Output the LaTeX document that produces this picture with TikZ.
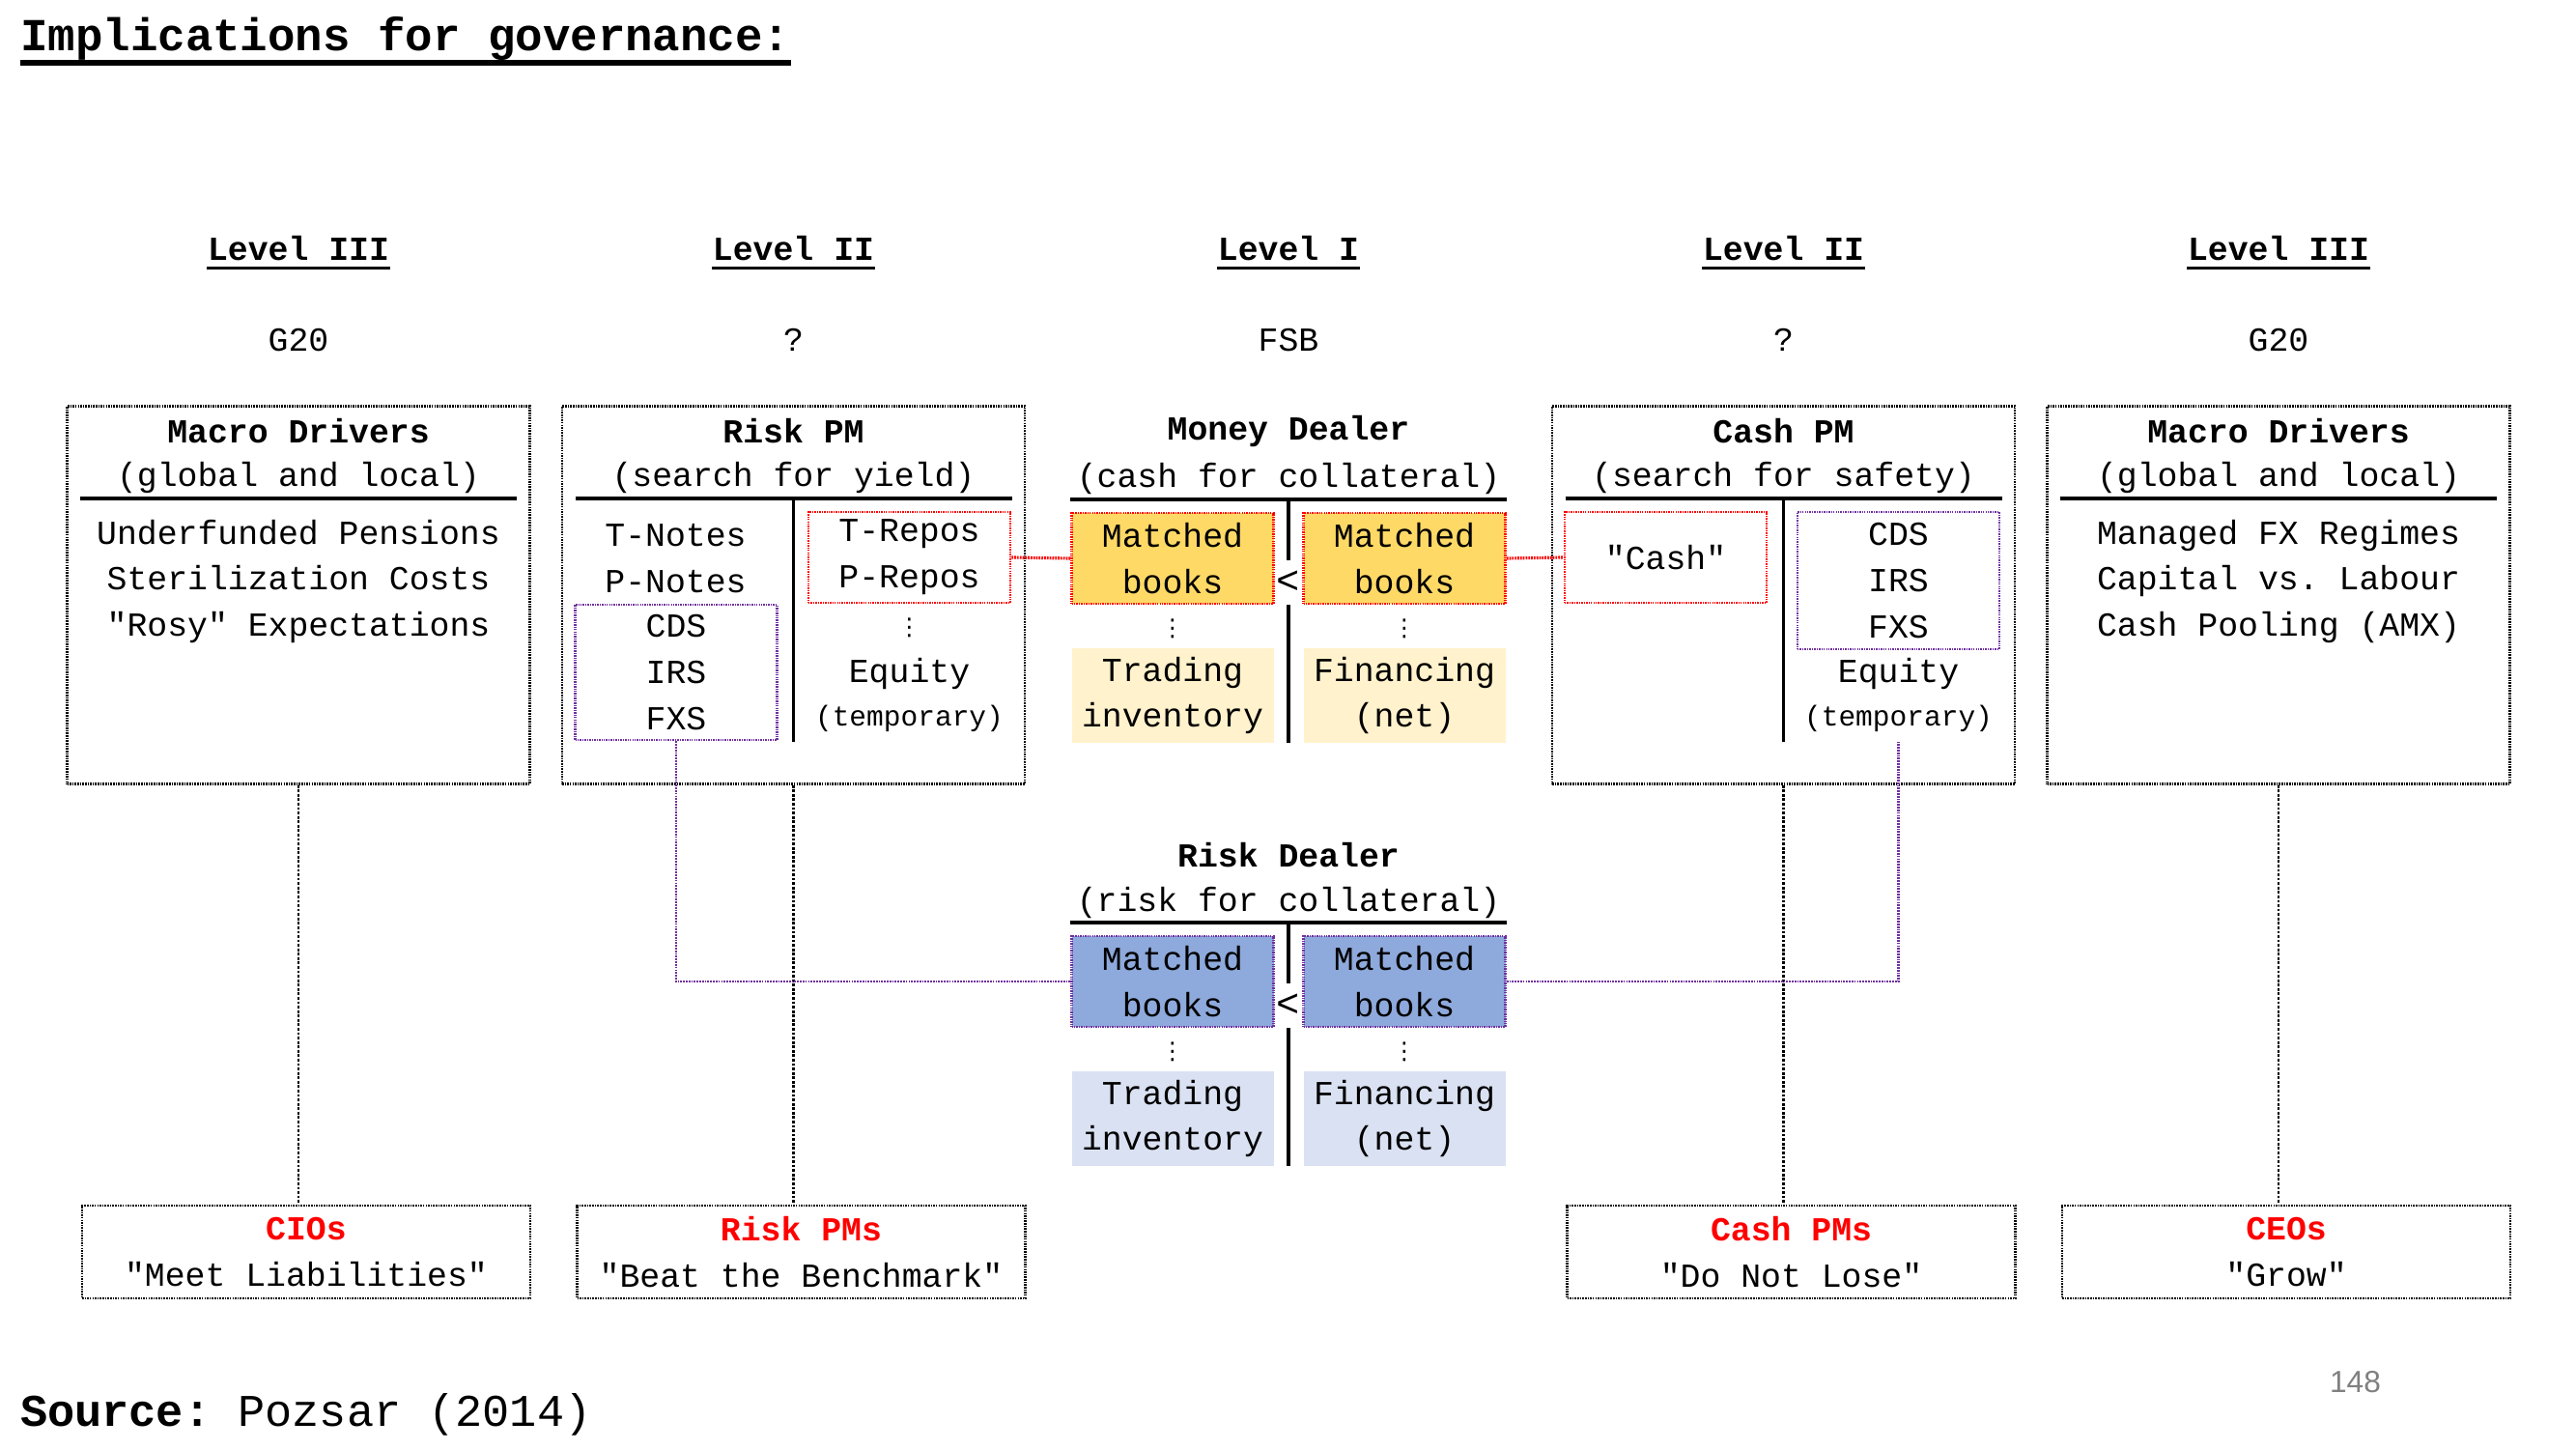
\documentclass[tikz,border=0pt]{standalone}
\usepackage{fontspec}
\setmonofont{Liberation Mono}
\renewcommand*{\familydefault}{\ttdefault}
\newfontfamily\pagefont{Liberation Sans}
\newfontfamily\dotfont{DejaVu Sans}
\usepackage{xcolor}
\usepackage{tikz}
\usetikzlibrary{positioning}
\definecolor{gold}{HTML}{FFD966}
\definecolor{paleGold}{HTML}{FFF2CC}
\definecolor{steel}{HTML}{8EA9DB}
\definecolor{paleSteel}{HTML}{D9E1F2}
\definecolor{lilac}{HTML}{7030A0}
\tikzset{
	on grid,
	txt/.style={inner sep=0pt, align=center, font=\fontsize{9.9}{13.6}\selectfont},
	bold/.style={txt, font=\fontsize{9.9}{13.6}\selectfont\bfseries},
	note/.style={txt, font=\fontsize{8.4}{11}\selectfont},
	dots/.style={inner sep=0pt, font=\dotfont\fontsize{7}{8}\selectfont},
	less/.style={inner sep=0pt, inner ysep=3pt, font=\fontsize{11.5}{12}\selectfont},
	frame/.style={draw, line width=0.7pt, dash pattern=on 0.45pt off 0.3pt},
	bigbox/.style={frame, minimum width=4.79cm, minimum height=3.91cm},
	lowbox/.style={frame, txt, minimum width=4.64cm, minimum height=0.96cm},
	redbox/.style={txt, draw=red, line width=0.75pt, dash pattern=on 0.4pt off 0.3pt, minimum width=2.09cm, minimum height=0.94cm},
	lilacbox/.style={txt, draw=lilac, line width=0.75pt, dash pattern=on 0.4pt off 0.3pt, minimum width=2.09cm, minimum height=0.94cm},
	pale/.style={txt, minimum width=2.09cm, minimum height=0.98cm},
	rule/.style={line width=1.3pt},
	vrule/.style={line width=1pt},
	uline/.style={line width=1.1pt},
	link/.style={line width=0.6pt, dash pattern=on 0.8pt off 0.5pt},
	redlink/.style={red, line width=0.9pt, dash pattern=on 0.5pt off 0.3pt},
	lilaclink/.style={lilac, line width=0.75pt, dash pattern=on 0.5pt off 0.3pt}
}

\begin{document}
\begin{tikzpicture}
	\useasboundingbox (0,0) rectangle (26.67,15);
	\node[anchor=base west, inner sep=0pt, font=\fontsize{13.5}{16}\selectfont\bfseries] (ttl) at (0.205,14.47) {Implications for governance:};
	\draw[line width=1.7pt] ([yshift=-0.12cm]ttl.base west) -- ([yshift=-0.12cm]ttl.base east);

	\node[bold] (l1) at (3.09,12.43) {Level III};
	\node[bold, right=5.125cm of l1] (l2) {Level II};
	\node[bold, right=5.125cm of l2] (l3) {Level I};
	\node[bold, right=5.125cm of l3] (l4) {Level II};
	\node[bold, right=5.125cm of l4] (l5) {Level III};
	\draw[uline] ([yshift=-0.08cm]l1.base west) -- ([yshift=-0.08cm]l1.base east);
	\draw[uline] ([yshift=-0.08cm]l2.base west) -- ([yshift=-0.08cm]l2.base east);
	\draw[uline] ([yshift=-0.08cm]l3.base west) -- ([yshift=-0.08cm]l3.base east);
	\draw[uline] ([yshift=-0.08cm]l4.base west) -- ([yshift=-0.08cm]l4.base east);
	\draw[uline] ([yshift=-0.08cm]l5.base west) -- ([yshift=-0.08cm]l5.base east);

	\node[txt, below=0.95cm of l1] (g1) {G20};
	\node[txt, below=0.95cm of l2] (g2) {?};
	\node[txt, below=0.95cm of l3] (g3) {FSB};
	\node[txt, below=0.95cm of l4] (g4) {?};
	\node[txt, below=0.95cm of l5] (g5) {G20};

	\node[bigbox, below=3.59cm of l1] (b1) {};
	\node[bigbox, below=3.59cm of l2] (b2) {};
	\node[bigbox, below=3.59cm of l4] (b4) {};
	\node[bigbox, below=3.59cm of l5] (b5) {};

	\coordinate[above=1.0cm of b1] (h1);
	\coordinate[above=1.0cm of b2] (h2);
	\coordinate[below=2.6cm of l3] (h3);
	\coordinate[above=1.0cm of b4] (h4);
	\coordinate[above=1.0cm of b5] (h5);
	\coordinate[below=4.38cm of h3] (h6);
	\coordinate[below=2.52cm of h2] (e2);
	\coordinate[below=2.52cm of h3] (e3);
	\coordinate[below=2.52cm of h4] (e4);
	\coordinate[below=2.52cm of h6] (e6);

	\node[bold, above=0.70cm of h1, anchor=center] (t1) {Macro Drivers};
	\node[txt, above=0.21cm of h1, anchor=center] (s1) {(global and local)};
	\node[txt, below=0.86cm of h1, anchor=center] (x1) {Underfunded Pensions\\Sterilization Costs\\"Rosy" Expectations};

	\node[bold, above=0.70cm of h2, anchor=center] (t2) {Risk PM};
	\node[txt, above=0.21cm of h2, anchor=center] (s2) {(search for yield)};
	\node[txt, below left=0.62cm and 1.22cm of h2, anchor=center] (n2) {T-Notes\\P-Notes};
	\node[lilacbox, minimum height=1.4cm, below left=1.8cm and 1.215cm of h2, anchor=center] (d2) {CDS\\IRS\\FXS};
	\node[redbox, below right=0.61cm and 1.2cm of h2, anchor=center] (r2) {T-Repos\\P-Repos};
	\node[dots, below right=1.34cm and 1.2cm of h2, anchor=center] (v2) {⋮};
	\node[txt, below right=1.82cm and 1.2cm of h2, anchor=center] (q2) {Equity};
	\node[note, below right=2.28cm and 1.2cm of h2, anchor=center] (w2) {(temporary)};

	\node[bold, above=0.70cm of h3, anchor=center] (t3) {Money Dealer};
	\node[txt, above=0.21cm of h3, anchor=center] (s3) {(cash for collateral)};
	\node[redbox, fill=gold, below left=0.61cm and 1.2cm of h3, anchor=center] (m3a) {Matched\\books};
	\node[redbox, fill=gold, below right=0.61cm and 1.2cm of h3, anchor=center] (m3b) {Matched\\books};
	\node[less, below=0.86cm of h3, anchor=center] (lt3) {<};
	\node[dots, below left=1.34cm and 1.2cm of h3, anchor=center] (v3a) {⋮};
	\node[dots, below right=1.34cm and 1.2cm of h3, anchor=center] (v3b) {⋮};
	\node[pale, fill=paleGold, below left=2.03cm and 1.2cm of h3, anchor=center] (p3a) {Trading\\inventory};
	\node[pale, fill=paleGold, below right=2.03cm and 1.2cm of h3, anchor=center] (p3b) {Financing\\(net)};

	\node[bold, above=0.70cm of h6, anchor=center] (t6) {Risk Dealer};
	\node[txt, above=0.21cm of h6, anchor=center] (s6) {(risk for collateral)};
	\node[lilacbox, fill=steel, below left=0.61cm and 1.2cm of h6, anchor=center] (k6a) {Matched\\books};
	\node[lilacbox, fill=steel, below right=0.61cm and 1.2cm of h6, anchor=center] (k6b) {Matched\\books};
	\node[less, below=0.86cm of h6, anchor=center] (lt6) {<};
	\node[dots, below left=1.34cm and 1.2cm of h6, anchor=center] (v6a) {⋮};
	\node[dots, below right=1.34cm and 1.2cm of h6, anchor=center] (v6b) {⋮};
	\node[pale, fill=paleSteel, below left=2.03cm and 1.2cm of h6, anchor=center] (p6a) {Trading\\inventory};
	\node[pale, fill=paleSteel, below right=2.03cm and 1.2cm of h6, anchor=center] (p6b) {Financing\\(net)};

	\node[bold, above=0.70cm of h4, anchor=center] (t4) {Cash PM};
	\node[txt, above=0.21cm of h4, anchor=center] (s4) {(search for safety)};
	\node[redbox, below left=0.61cm and 1.22cm of h4, anchor=center] (c4) {"Cash"};
	\node[lilacbox, minimum height=1.42cm, below right=0.85cm and 1.19cm of h4, anchor=center] (d4) {CDS\\IRS\\FXS};
	\node[txt, below right=1.82cm and 1.19cm of h4, anchor=center] (q4) {Equity};
	\node[note, below right=2.28cm and 1.19cm of h4, anchor=center] (w4) {(temporary)};

	\node[bold, above=0.70cm of h5, anchor=center] (t5) {Macro Drivers};
	\node[txt, above=0.21cm of h5, anchor=center] (s5) {(global and local)};
	\node[txt, below=0.86cm of h5, anchor=center] (x5) {Managed FX Regimes\\Capital vs. Labour\\Cash Pooling (AMX)};

	\draw[rule] ([xshift=-2.26cm]h1) -- ([xshift=2.26cm]h1);
	\draw[rule] ([xshift=-2.26cm]h2) -- ([xshift=2.26cm]h2);
	\draw[rule] ([xshift=-2.26cm]h3) -- ([xshift=2.26cm]h3);
	\draw[rule] ([xshift=-2.26cm]h4) -- ([xshift=2.26cm]h4);
	\draw[rule] ([xshift=-2.26cm]h5) -- ([xshift=2.26cm]h5);
	\draw[rule] ([xshift=-2.26cm]h6) -- ([xshift=2.26cm]h6);
	\draw[vrule] (h2) -- (e2);
	\draw[vrule] (h4) -- (e4);
	\draw[vrule] (h3) -- (lt3.north);
	\draw[vrule] (lt3.south) -- (e3);
	\draw[vrule] (h6) -- (lt6.north);
	\draw[vrule] (lt6.south) -- (e6);

	\node[lowbox, below right=6.8cm and 0.08cm of b1] (c1) {\textcolor{red}{\bfseries CIOs}\\"Meet Liabilities"};
	\node[lowbox, below right=6.8cm and 0.08cm of b2] (c2) {\textcolor{red}{\bfseries Risk PMs}\\"Beat the Benchmark"};
	\node[lowbox, below right=6.8cm and 0.08cm of b4] (c4b) {\textcolor{red}{\bfseries Cash PMs}\\"Do Not Lose"};
	\node[lowbox, below right=6.8cm and 0.08cm of b5] (c5) {\textcolor{red}{\bfseries CEOs}\\"Grow"};

	\draw[link] (b1.south) -- (b1.south |- c1.north);
	\draw[link] (b2.south) -- (b2.south |- c2.north);
	\draw[link] (b4.south) -- (b4.south |- c4b.north);
	\draw[link] (b5.south) -- (b5.south |- c5.north);
	\draw[redlink] (r2.east) -- (m3a.west);
	\draw[redlink] (m3b.east) -- (c4.west);
	\draw[lilaclink] (d2.south) |- (k6a.west);
	\draw[lilaclink] (k6b.east) -| (d4 |- e4);

	\node[anchor=base west, inner sep=0pt, font=\fontsize{13.35}{16}\selectfont] (src) at (0.205,0.24) {\textbf{Source:} Pozsar (2014)};
	\node[inner sep=0pt, text=gray, font=\pagefont\fontsize{9}{10}\selectfont] (pg) at (24.385,0.69) {148};
\end{tikzpicture}
\end{document}
